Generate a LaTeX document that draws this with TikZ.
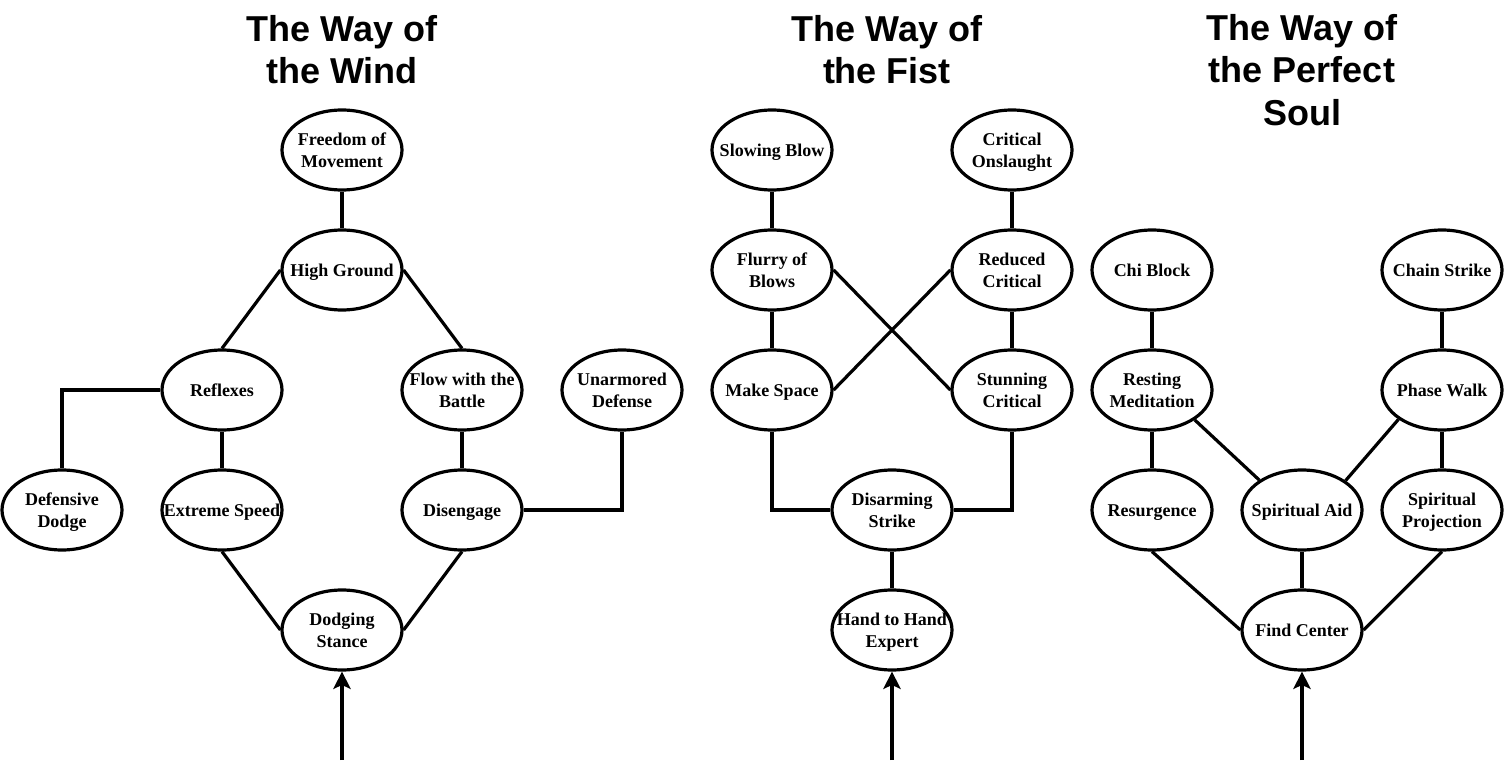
\documentclass[tikz,border=0pt]{standalone}
\usepackage{fontspec}
\setmainfont{Liberation Serif}
\newfontfamily\titlefont{Liberation Sans}
\usetikzlibrary{shapes.geometric,arrows.meta}
\newcommand\sk[1]{\raisebox{-1.5pt}[\height][\depth]{\makebox[0pt]{\begin{tabular}{@{}c@{}}#1\end{tabular}}}}
\begin{document}
\begin{tikzpicture}[x=0.75pt,y=-0.75pt,
 skill/.style={ellipse,draw,line width=2.4pt,minimum width=90pt,minimum height=60pt,inner sep=0pt,font=\fontsize{13.5}{16.5}\selectfont\bfseries},
 link/.style={line width=2.4pt},
 entry/.style={line width=2.4pt,-{Stealth[length=13pt,width=13pt,inset=3pt]}},
 ttl/.style={font=\titlefont\bfseries\fontsize{27}{31.9}\selectfont,align=center}]
\useasboundingbox (0,0) rectangle (1504,770);

% Titles
\node[ttl] (t1) at (342,49.5) {The Way of\\the Wind};
\node[ttl] (t2) at (887,49.5) {The Way of\\the Fist};
\node[ttl] (t3) at (1302,70) {The Way of\\the Perfect\\Soul};

% The Way of the Wind
\node[skill] (freedom) at (342,150) {\sk{Freedom of\\Movement}};
\node[skill] (high) at (342,270) {\sk{High Ground}};
\node[skill] (reflexes) at (222,390) {\sk{Reflexes}};
\node[skill] (flow) at (462,390) {\sk{Flow with the\\Battle}};
\node[skill] (unarmored) at (622,390) {\sk{Unarmored\\Defense}};
\node[skill] (defdodge) at (62,510) {\sk{Defensive\\Dodge}};
\node[skill] (extreme) at (222,510) {\sk{Extreme Speed}};
\node[skill] (diseng) at (462,510) {\sk{Disengage}};
\node[skill] (dodging) at (342,630) {\sk{Dodging\\Stance}};
\coordinate (w0) at (342,760);

\draw[link] (freedom) -- (high);
\draw[link] (high.west) -- (reflexes.north);
\draw[link] (high.east) -- (flow.north);
\draw[link] (reflexes.west) -| (defdodge.north);
\draw[link] (reflexes) -- (extreme);
\draw[link] (flow) -- (diseng);
\draw[link] (diseng.east) -| (unarmored.south);
\draw[link] (extreme.south) -- (dodging.west);
\draw[link] (diseng.south) -- (dodging.east);
\draw[entry] (w0) -- (dodging.south);

% The Way of the Fist
\node[skill] (slowing) at (772,150) {\sk{Slowing Blow}};
\node[skill] (onslaught) at (1012,150) {\sk{Critical\\Onslaught}};
\node[skill] (flurry) at (772,270) {\sk{Flurry of\\Blows}};
\node[skill] (reduced) at (1012,270) {\sk{Reduced\\Critical}};
\node[skill] (makespace) at (772,390) {\sk{Make Space}};
\node[skill] (stunning) at (1012,390) {\sk{Stunning\\Critical}};
\node[skill] (disarm) at (892,510) {\sk{Disarming\\Strike}};
\node[skill] (hand) at (892,630) {\sk{Hand to Hand\\Expert}};
\coordinate (f0) at (892,760);

\draw[link] (slowing) -- (flurry);
\draw[link] (onslaught) -- (reduced);
\draw[link] (flurry) -- (makespace);
\draw[link] (reduced) -- (stunning);
\draw[link] (flurry.east) -- (stunning.west);
\draw[link] (makespace.east) -- (reduced.west);
\draw[link] (makespace.south) |- (disarm.west);
\draw[link] (stunning.south) |- (disarm.east);
\draw[link] (disarm) -- (hand);
\draw[entry] (f0) -- (hand.south);

% The Way of the Perfect Soul
\node[skill] (chi) at (1152,270) {\sk{Chi Block}};
\node[skill] (chain) at (1442,270) {\sk{Chain Strike}};
\node[skill] (resting) at (1152,390) {\sk{Resting\\Meditation}};
\node[skill] (phase) at (1442,390) {\sk{Phase Walk}};
\node[skill] (resurg) at (1152,510) {\sk{Resurgence}};
\node[skill] (aid) at (1302,510) {\sk{Spiritual Aid}};
\node[skill] (projection) at (1442,510) {\sk{Spiritual\\Projection}};
\node[skill] (center) at (1302,630) {\sk{Find Center}};
\coordinate (s0) at (1302,760);

\draw[link] (chi) -- (resting);
\draw[link] (chain) -- (phase);
\draw[link] (resting) -- (resurg);
\draw[link] (phase) -- (projection);
\draw[link] (resting.-35) -- (aid.145);
\draw[link] (phase.-146) -- (aid.34);
\draw[link] (resurg.south) -- (center.west);
\draw[link] (projection.south) -- (center.east);
\draw[link] (aid) -- (center);
\draw[entry] (s0) -- (center.south);
\end{tikzpicture}
\end{document}
